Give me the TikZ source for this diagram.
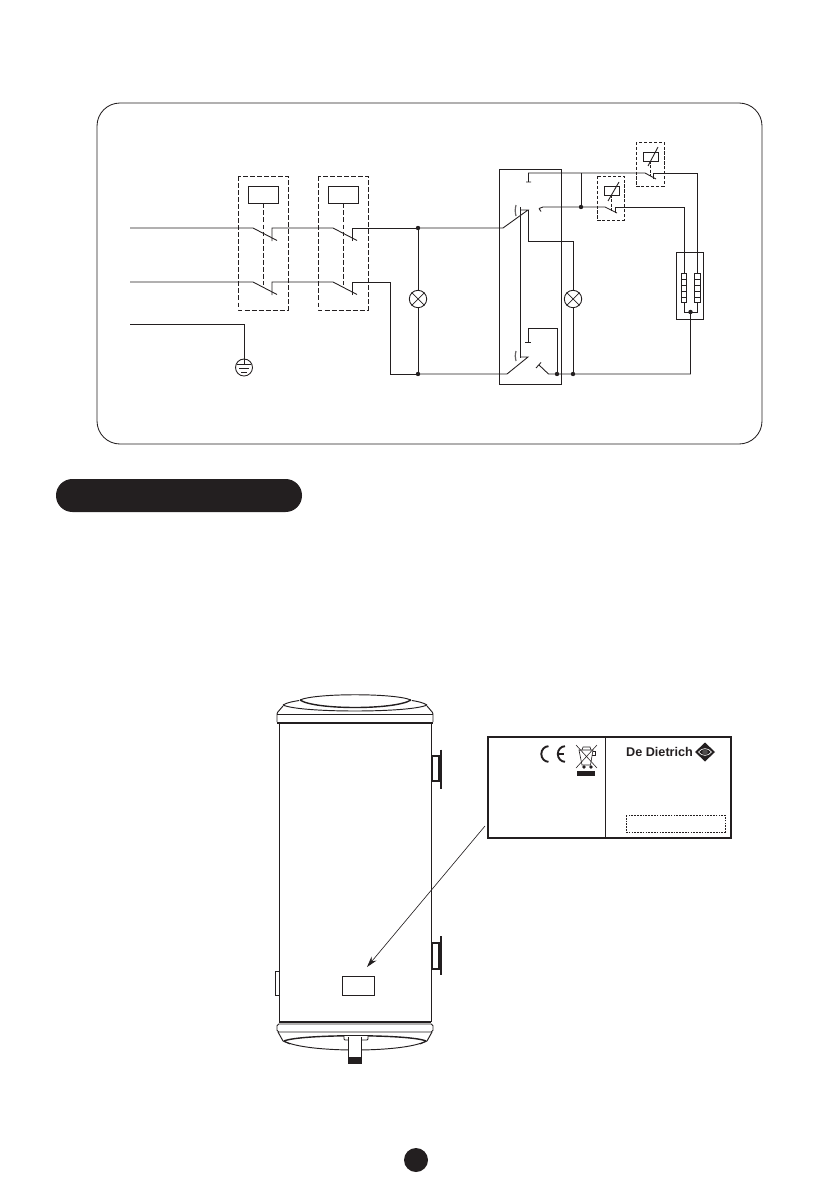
\documentclass[tikz,border=0pt]{standalone}
\usepackage{fontspec}
\setmainfont{Liberation Sans}
\usetikzlibrary{arrows.meta}
\definecolor{ink}{HTML}{231F20}
\tikzset{
  x=0.05cm,y=-0.05cm,
  wire/.style={draw=ink,line width=1.25pt,line join=miter},
  thin wire/.style={draw=ink,line width=1pt},
  guard/.style={draw=ink,line width=1.1pt,dash pattern=on 7pt off 3pt},
  fineguard/.style={draw=ink,line width=1.1pt,dash pattern=on 4.6pt off 2.4pt},
  tapdash/.style={draw=ink,line width=1pt,dash pattern=on 4.2pt off 2pt},
  relaybox/.style={draw=ink,line width=1.25pt,rectangle,inner sep=0pt,minimum width=1.5cm,minimum height=0.85cm},
  thermbox/.style={draw=ink,line width=1.25pt,rectangle,inner sep=0pt,minimum width=0.75cm,minimum height=0.45cm},
  lamp/.style={draw=ink,line width=1.25pt,circle,inner sep=0pt,minimum size=0.87cm},
  junction/.style={fill=ink,circle,inner sep=0pt,minimum size=0.22cm},
  heater/.style={draw=ink,line width=1.1pt,rectangle,inner sep=0pt,minimum width=0.27cm,minimum height=1.45cm},
  tank/.style={draw=ink,line width=1.35pt},
  tankheavy/.style={draw=ink,line width=2pt},
}
\begin{document}
\begin{tikzpicture}
\useasboundingbox (0,0) rectangle (822,1191);

% frame and heading bar
\draw[draw=ink,line width=1.2pt,rounded corners=1.15cm] (97,103) rectangle (762,444);
\fill[ink,rounded corners=0.82cm] (56,479) rectangle (302,512);
\fill[ink] (416,1160) circle (0.6cm);

% named points
\coordinate (L1) at (130,228); \coordinate (L2) at (130,282); \coordinate (L3) at (130,324);
\node[junction] (j1) at (418,228) {}; \node[junction] (j2) at (418,374) {};
\node[junction] (j3) at (581,207) {}; \node[junction] (j4) at (557,374) {};
\node[junction] (j5) at (573,374) {}; \node[junction] (j6) at (690.5,312) {};

% relay guards
\draw[guard] (238,176) rectangle (288,310);
\draw[guard] (318,176) rectangle (368,310);
\node[relaybox] (r1) at (263,194.5) {};
\node[relaybox] (r2) at (343,194.5) {};
\draw[guard] (r1.south) -- (263,285);
\draw[guard] (r2.south) -- (343,285);

% line 1
\draw[wire] (L1) -- (253,228) -- (277,240.5);
\draw[wire] (272,241) -- (272,228) -- (333,228) -- (357,240.5);
\draw[wire] (352,241) -- (352,228) -- (j1.center);
% line 2
\draw[wire] (L2) -- (253,282) -- (277,294.5);
\draw[wire] (272,295) -- (272,282) -- (333,282) -- (357,294.5);
\draw[wire] (352,295) -- (352,282) -- (390,282) -- (390,374) -- (j2.center);
% earth
\node[lamp,minimum size=0.85cm] (earth) at (244,367.5) {};
\draw[wire] (L3) -- (244,324) -- (earth.north);
\draw[thin wire] (237,364) -- (251,364) (239,368) -- (249,368) (241,372) -- (247,372);
\draw[wire] (244,358) -- (244,364);

% lamp 1
\node[lamp] (lamp1) at (418,299) {};
\draw[wire] (j1.center) -- (lamp1.north) (lamp1.south) -- (j2.center);
\draw[thin wire] (lamp1.45) -- (lamp1.225) (lamp1.135) -- (lamp1.315);

% main switch box
\draw[wire] (499,169) rectangle (561.5,384);
\draw[wire] (j1.center) -- (503,228) -- (528,210) -- (520,210);
\draw[wire] (j2.center) -- (507,374) -- (528,357) -- (520,357);
\draw[wire] (520,207) -- (520,358);
\draw[ink!70,line width=1.7pt] (516,205) .. controls (515,209) and (515,212) .. (516,216);
\draw[ink!70,line width=1.7pt] (516,351) .. controls (515,355) and (515,358) .. (516,361);

% upper contacts
\draw[wire] (526,182) -- (531,182) (528.5,182) -- (528.5,173) -- (645,173) -- (656,179);
\draw[wire] (581,173) -- (j3.center);
\draw[wire] (539,208.5) -- (543,207) -- (605,207) -- (617,213);
\draw[wire] (541,211.5) -- (539,208.5);
\draw[wire] (528,210) -- (528,241) -- (573,241) -- (573,290.5);

% lamp 2
\node[lamp] (lamp2) at (573,299) {};
\draw[wire] (lamp2.south) -- (j5.center);
\draw[thin wire] (lamp2.45) -- (lamp2.225) (lamp2.135) -- (lamp2.315);

% lower contacts
\draw[wire] (525,342) -- (531,342) (528,342) -- (528,328) -- (557,328) -- (j4.center);
\draw[wire] (536,368) -- (541,362.5) (539,365) -- (548.5,374) -- (j6 |- j4) -- (j6.center);

% thermostat A
\draw[fineguard] (597,176) rectangle (624,220);
\node[thermbox] (t1) at (611.5,190.5) {};
\draw[wire] (608,201) -- (619,182);
\draw[tapdash] (611.5,195) -- (611.5,211);
\draw[wire] (615,213) -- (615,207) -- (684,207) -- (684,273);

% thermostat B
\draw[fineguard] (636,142) rectangle (664,186);
\node[thermbox] (t2) at (651,156.5) {};
\draw[wire] (648,166) -- (658,147);
\draw[tapdash] (650.5,161) -- (650.5,176);
\draw[wire] (653,179) -- (653,173) -- (697.5,173) -- (697.5,273);

% heater block
\draw[wire] (676,252) rectangle (703,319);
\node[heater,anchor=north] (h1) at (684,273) {};
\node[heater,anchor=north] (h2) at (697.5,273) {};
\foreach \yy in {279,285,291,297} {
  \draw[thin wire] (h1.west |- 0,\yy) -- (h1.east |- 0,\yy);
  \draw[thin wire] (h2.west |- 0,\yy) -- (h2.east |- 0,\yy);
}
\draw[wire] (h1.south) -- (684,312) -- (697.5,312) -- (h2.south);

% ---------- tank ----------
\draw[tank] (279,723) -- (279,1022) (431,723) -- (431,1022);
% top
\draw[tank,rounded corners=1.5pt] (277,722) -- (277,713) -- (283,706);
\draw[tank,rounded corners=1.5pt] (433,722) -- (433,713) -- (427,706);
\draw[tankheavy] (277,723) -- (433,723);
\draw[tank] (277,714) -- (433,714);
\draw[tank] (283,705) .. controls (287,702.5) and (293,701.5) .. (299,700.5);
\draw[tank] (427,705) .. controls (423,702.5) and (418,701.5) .. (412,700.5);
\draw[tank] (283,705) .. controls (300,713) and (410,713) .. (427,705);
\draw[tank] (300,700) .. controls (315,693) and (395,693) .. (411,700);
\draw[tankheavy] (300,700) .. controls (315,710) and (395,710) .. (411,700);
% right fittings
\draw[tankheavy] (432,756) -- (439,756) -- (439,781) -- (432,781);
\draw[tank] (432,756) -- (432,781);
\draw[draw=ink,line width=2pt] (441,749.5) -- (441,789);
\draw[tankheavy] (432,943) -- (439,943) -- (439,969) -- (432,969);
\draw[tank] (432,943) -- (432,969);
\draw[draw=ink,line width=2pt] (441,936) -- (441,975);
% left tab and label plate
\draw[thin wire] (279,971) -- (275,971) -- (275,995) -- (279,995);
\node[draw=ink,line width=1.1pt,rectangle,inner sep=0pt,minimum width=1.62cm,minimum height=0.95cm] (plate) at (358.5,985.5) {};
% bottom
\draw[tankheavy] (279,1022) -- (431,1022);
\draw[tank,rounded corners=2.5pt] (277,1024) rectangle (433,1032);
\draw[tank] (278,1032) -- (283,1041) (432,1032) -- (427,1041);
\draw[tankheavy] (284,1041) .. controls (300,1034) and (410,1034) .. (426,1041);
\draw[tank] (284,1041) .. controls (305,1053) and (405,1053) .. (426,1041);
\draw[tank] (283,1041) -- (290,1044) (427,1041) -- (420,1044);
\draw[tank,fill=white,rounded corners=1.5pt] (344,1036) -- (344,1040) -- (368,1040) -- (368,1036);
\draw[tank,fill=white] (348.5,1037) -- (348.5,1057) -- (361.5,1057) -- (361.5,1037);
\fill[ink] (348,1057) rectangle (362,1064);

% ---------- rating label ----------
\node[draw=ink,line width=1.7pt,rectangle,inner sep=0pt,minimum width=12.15cm,minimum height=5.05cm] (label) at (609.5,787.5) {};
\coordinate (lead) at (485,826);
\coordinate (target) at (367,967);
\draw[draw=ink,line width=0.9pt,-{Stealth[length=0.55cm,width=0.32cm]}] (lead) -- (target);
\draw[draw=ink,line width=1.3pt] (605,737) -- (605,838);
% CE
\draw[draw=ink,line width=2.7pt] (548.5,746.2) arc[start angle=90,end angle=270,x radius=7.2,y radius=-7.8];
\draw[draw=ink,line width=2.7pt] (565,746.2) arc[start angle=90,end angle=270,x radius=7.2,y radius=-7.8];
\draw[draw=ink,line width=2pt] (557.5,754) -- (564,754);
% WEEE bin
\draw[draw=ink,line width=0.8pt] (576,745) -- (597,768) (597,745) -- (576,768);
\draw[draw=ink,line width=0.9pt] (579,750) -- (593,750) -- (590.5,765) -- (582,765) -- cycle;
\draw[draw=ink,line width=0.9pt] (582,750) -- (583,747) -- (590,747) -- (591,750);
\draw[draw=ink,line width=0.9pt] (593,751) -- (595,751) -- (595,755) -- (592,755);
\fill[ink] (584,767) circle (0.09cm) (591,767) circle (0.09cm);
\fill[ink] (577,771) rectangle (595,776);
% logo
\node[font=\fontsize{18pt}{18pt}\selectfont\bfseries,text=ink,inner sep=0pt,anchor=west] (brand) at (626,751.5) {De Dietrich};
\fill[ink] (695,752) -- (705,742.5) -- (715,752) -- (705,761.5) -- cycle;
\draw[white,line width=0.9pt] (698.5,752) .. controls (702,747.5) and (708,747.5) .. (711.5,752) .. controls (708,756.5) and (702,756.5) .. (698.5,752) -- cycle;
\fill[ink!80] (705,752) circle (0.14cm);
% serial box
\draw[draw=ink,line width=1pt,dash pattern=on 2.4pt off 1.6pt] (626,815) rectangle (725,832);
\end{tikzpicture}
\end{document}
